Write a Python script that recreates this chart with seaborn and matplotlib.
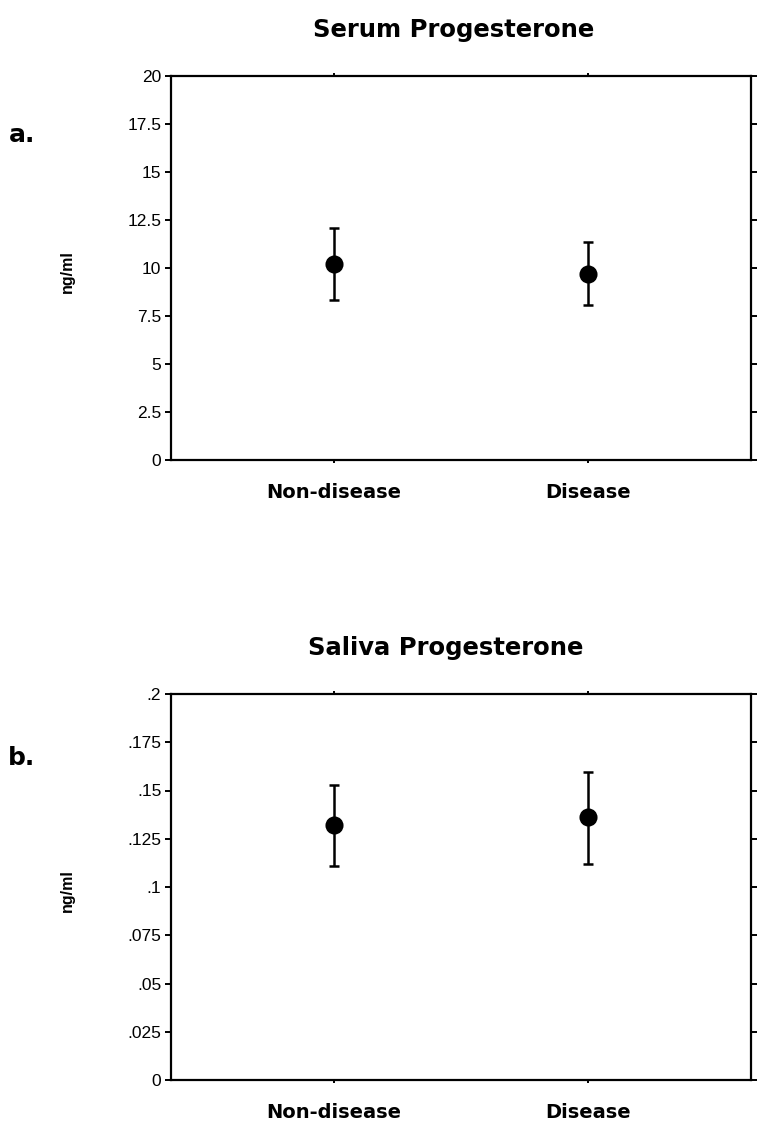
import matplotlib
matplotlib.use("Agg")
import matplotlib.pyplot as plt
import seaborn as sns
import pandas as pd

sns.set_theme(style="ticks")
plt.rcParams['font.family'] = ['Liberation Sans', 'DejaVu Sans']
plt.rcParams['text.color'] = 'black'
plt.rcParams['axes.labelcolor'] = 'black'

categories = ["Non-disease", "Disease"]

serum_mean = [10.2, 9.7]
serum_low = [8.35, 8.05]
serum_high = [12.1, 11.35]
serum_ticks = [0, 2.5, 5, 7.5, 10, 12.5, 15, 17.5, 20]
serum_ticklabels = ["0", "2.5", "5", "7.5", "10", "12.5", "15", "17.5", "20"]

saliva_mean = [0.132, 0.1365]
saliva_low = [0.111, 0.112]
saliva_high = [0.153, 0.1595]
saliva_ticks = [0, 0.025, 0.05, 0.075, 0.1, 0.125, 0.15, 0.175, 0.2]
saliva_ticklabels = ["0", ".025", ".05", ".075", ".1", ".125", ".15", ".175", ".2"]

W, H = 762, 1129
fig = plt.figure(figsize=(W / 100, H / 100), dpi=100)

def panel(rect, title, title_xy, letter, letter_xy, mean, low, high, ticks, ticklabels):
    ax = fig.add_axes(rect)
    df = pd.DataFrame({"group": categories, "value": mean})
    sns.pointplot(data=df, x="group", y="value", color="black", linestyle="none",
                  markers="o", markersize=11, errorbar=None, ax=ax, zorder=3)
    xs = list(range(len(categories)))
    yerr = [[m - l for m, l in zip(mean, low)], [h - m for m, h in zip(mean, high)]]
    ax.errorbar(xs, mean, yerr=yerr, fmt="none", ecolor="black", elinewidth=1.8,
                capsize=3.6, capthick=1.8, zorder=2)
    ax.set_xlim(-0.642, 1.642)
    ax.set_ylim(ticks[0], ticks[-1])
    ax.set_yticks(ticks)
    ax.set_yticklabels(ticklabels, fontsize=12.5, color="black")
    ax.set_xticks(xs)
    ax.set_xticklabels(categories, fontsize=14, fontweight="bold", family="DejaVu Sans",
                       color="black")
    for s in ax.spines.values():
        s.set_visible(True)
        s.set_linewidth(1.6)
        s.set_color("black")
    ax.tick_params(axis="y", which="both", left=True, right=True, direction="out",
                   length=4, width=1.4, pad=3, colors="black")
    ax.tick_params(axis="x", which="both", bottom=True, top=True, direction="out",
                   length=2.5, width=1.4, pad=14, colors="black")
    ax.set_xlabel("")
    ax.set_ylabel("ng/ml", fontsize=11.5, fontweight="bold", color="black")
    ax.yaxis.set_label_coords(-0.1655, 0.49)
    fig.text(title_xy[0] / W, 1 - title_xy[1] / H, title, ha="center", va="center",
             fontsize=17.5, fontweight="bold", family="DejaVu Sans", color="black")
    fig.text(letter_xy[0] / W, 1 - letter_xy[1] / H, letter, ha="center", va="center",
             fontsize=18, fontweight="bold", family="DejaVu Sans", color="black")
    return ax

panel([171 / W, 1 - 460 / H, 580 / W, 384 / H], "Serum Progesterone", (454, 30),
      "a.", (22, 135), serum_mean, serum_low, serum_high, serum_ticks, serum_ticklabels)
panel([171 / W, 1 - 1080 / H, 580 / W, 386 / H], "Saliva Progesterone", (446, 648),
      "b.", (22, 758), saliva_mean, saliva_low, saliva_high, saliva_ticks, saliva_ticklabels)

fig.savefig("out.png", dpi=100, facecolor="white")
